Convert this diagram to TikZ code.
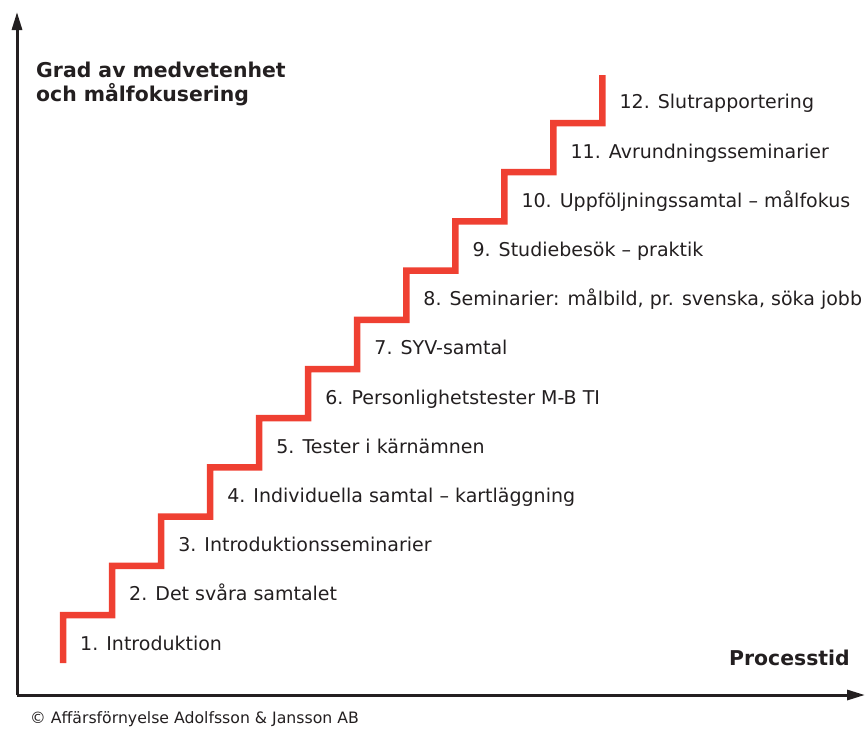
\documentclass[tikz,border=0pt]{standalone}
\usepackage{fontspec}
\setmainfont{DejaVu Sans}
\usetikzlibrary{arrows.meta}
\definecolor{stairred}{RGB}{239,64,50}
\definecolor{txt}{RGB}{35,31,32}
\tikzset{
  axis/.style={line width=3pt, txt, -{Triangle[length=18pt,width=10pt]}},
  stair/.style={line width=6.5pt, stairred},
  steplabel/.style={anchor=base west, inner sep=0pt, text=txt, font=\fontsize{19pt}{23pt}\selectfont},
  boldlabel/.style={anchor=base west, inner sep=0pt, text=txt, font=\fontsize{20.4pt}{24pt}\selectfont\bfseries, align=left},
}
\begin{document}
\begin{tikzpicture}[x=1pt,y=-1pt]
\useasboundingbox (0,0) rectangle (866,729);
\clip (0,0) rectangle (866,729);
% axes
\coordinate (origin) at (17,695);
\coordinate (ytip) at (17,12);
\coordinate (xtip) at (865,695);
\draw[axis] (origin) -- (ytip);
\draw[axis] (origin) -- (xtip);
% staircase
\draw[stair] (63,663)
  \foreach \k in {0,...,10} {
    -- ({63+49.04*\k},{615-49.2*\k}) -- ({63+49.04*(\k+1)},{615-49.2*\k})
  } -- (602.4,75);
% labels
\foreach \i/\t in {1/{1. Introduktion},
                   2/{2. Det svåra samtalet},
                   3/{3. Introduktionsseminarier},
                   4/{4. Individuella samtal – kartläggning},
                   5/{5. Tester i kärnämnen},
                   6/{6. Personlighetstester M-B TI},
                   7/{7. SYV-samtal},
                   8/{8. Seminarier: målbild, pr. svenska, söka jobb},
                   9/{9. Studiebesök – praktik},
                   10/{10. Uppföljningssamtal – målfokus},
                   11/{11. Avrundningsseminarier},
                   12/{12. Slutrapportering}} {
  \node[steplabel] (lab\i) at ({80+49.04*(\i-1)},{650-49.2*(\i-1)}) {\t};
}
\node[boldlabel] (ylabel) at (36,77) {Grad av medvetenhet};
\node[boldlabel] (ylabel2) at (36,101) {och målfokusering};
\node[boldlabel] (xlabel) at (729,665) {Processtid};
\node[anchor=base west, inner sep=0pt, text=txt, font=\fontsize{15.7pt}{18pt}\selectfont] (copy) at (30,723.5) {© Affärsförnyelse Adolfsson \& Jansson AB};
\end{tikzpicture}
\end{document}
